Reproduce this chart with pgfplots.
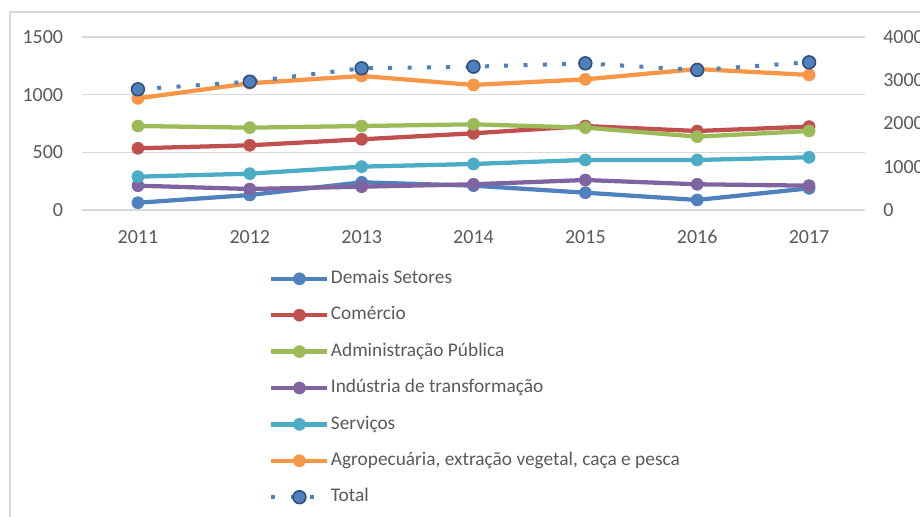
\documentclass[border=0pt]{standalone}
\usepackage{fontspec}
\setmainfont{Carlito}
\usepackage{pgfplots}
\pgfplotsset{compat=1.18}
\definecolor{cBlue}{HTML}{4F81BD}
\definecolor{cRed}{HTML}{C0504D}
\definecolor{cGreen}{HTML}{9BBB59}
\definecolor{cPurple}{HTML}{8064A2}
\definecolor{cAqua}{HTML}{4BACC6}
\definecolor{cOrange}{HTML}{F79646}
\definecolor{cDark}{HTML}{2F4F7F}
\definecolor{gridc}{HTML}{D9D9D9}
\definecolor{txt}{HTML}{595959}
\pgfplotsset{
  ser/.style={#1, line width=3.2pt, mark=*, mark size=4.5pt, mark options={solid, fill=#1, draw=#1, line width=0.5pt}},
  totstyle/.style={cBlue, line width=3pt, dash pattern=on 3pt off 11.5pt, line cap=butt, mark=*, mark size=4.8pt, mark options={solid, fill=cBlue, draw=cDark, line width=1.2pt}},
}
\begin{document}
\begin{tikzpicture}[x=0.75pt,y=0.75pt]
\useasboundingbox (0,0) rectangle (920,517);
\draw[gridc, line width=1pt] (10,-5) -- (10,505) -- (930,505);
\begin{axis}[
  at={(61.5pt,230.25pt)}, anchor=south west, scale only axis,
  width=587.25pt, height=129.75pt,
  xmin=2010.5, xmax=2017.5, ymin=0, ymax=1500,
  xtick={2011,2012,2013,2014,2015,2016,2017},
  ytick={0,500,1000,1500},
  ymajorgrids, grid style={gridc, line width=1pt},
  axis line style={draw=none}, tick style={draw=none},
  /pgf/number format/assume math mode=true,
  x tick label style={/pgf/number format/1000 sep={}, anchor=center, yshift=-20pt},
  y tick label style={/pgf/number format/1000 sep={}, anchor=east, inner sep=0pt, xshift=-14pt},
  tick label style={font=\fontsize{15}{17}\selectfont, text=txt},
  clip=false,
  legend style={at={(0.2389,-0.346)}, anchor=north west, draw=none, fill=none,
    font=\fontsize{14.5}{16}\selectfont, text=txt, inner sep=0pt,
    nodes={inner sep=0pt, text height=10pt, text depth=3pt},
    row sep=14.3pt, column sep=1pt},
  legend cell align=left,
  legend image code/.code={\draw[mark repeat=2, mark phase=2, #1] plot coordinates {(0pt,0pt) (21pt,0pt) (42pt,0pt)};},
]
\addplot[ser=cBlue] coordinates {(2011,63) (2012,130) (2013,240) (2014,211) (2015,150) (2016,87) (2017,188)};
\addlegendentry{Demais Setores}
\addplot[ser=cRed] coordinates {(2011,535) (2012,561) (2013,613) (2014,665) (2015,728) (2016,685) (2017,723)};
\addlegendentry{Comércio}
\addplot[ser=cGreen] coordinates {(2011,728) (2012,714) (2013,728) (2014,743) (2015,714) (2016,636) (2017,685)};
\addlegendentry{Administração Pública}
\addplot[ser=cPurple] coordinates {(2011,211) (2012,182) (2013,202) (2014,223) (2015,260) (2016,223) (2017,211)};
\addlegendentry{Indústria de transformação}
\addplot[ser=cAqua] coordinates {(2011,289) (2012,315) (2013,376) (2014,399) (2015,434) (2016,434) (2017,457)};
\addlegendentry{Serviços}
\addplot[ser=cOrange] coordinates {(2011,968) (2012,1099) (2013,1162) (2014,1084) (2015,1133) (2016,1222) (2017,1171)};
\addlegendentry{Agropecuária, extração vegetal, caça e pesca}
\addlegendimage{totstyle}
\addlegendentry{Total}
\end{axis}
\begin{axis}[
  at={(61.5pt,230.25pt)}, anchor=south west, scale only axis,
  width=587.25pt, height=129.75pt,
  xmin=2010.5, xmax=2017.5, ymin=0, ymax=4000,
  hide x axis, axis y line*=right,
  ytick={0,1000,2000,3000,4000},
  axis line style={draw=none}, tick style={draw=none},
  /pgf/number format/assume math mode=true,
  y tick label style={/pgf/number format/1000 sep={}, anchor=west, inner sep=0pt, xshift=13.5pt},
  tick label style={font=\fontsize{15}{17}\selectfont, text=txt},
  clip=false,
]
\addplot[totstyle] coordinates {(2011,2791) (2012,2967) (2013,3276) (2014,3314) (2015,3391) (2016,3237) (2017,3414)};
\end{axis}
\end{tikzpicture}
\end{document}
